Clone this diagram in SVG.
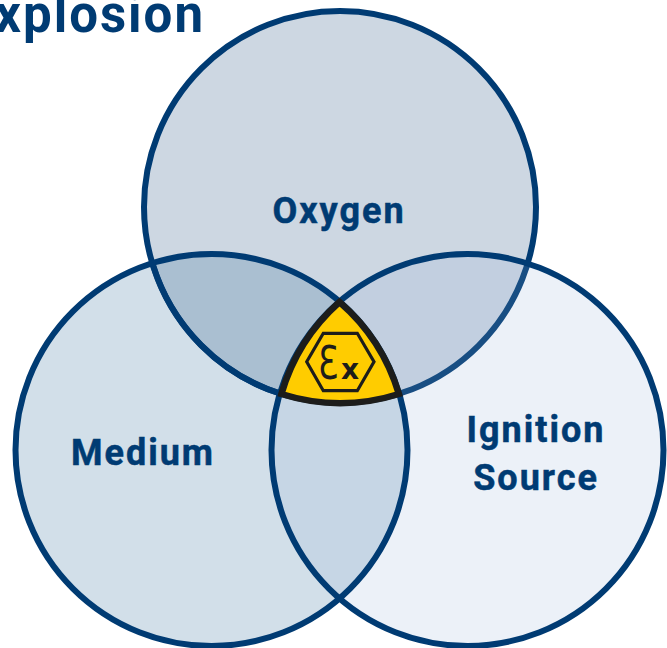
<svg xmlns="http://www.w3.org/2000/svg" width="667" height="648" viewBox="0 0 667 648">
<style>
.o{fill:none;stroke:#003b73;stroke-width:6}
.t{font-family:"Roboto","Liberation Sans",sans-serif;font-weight:700;fill:#003b73;stroke:#003b73;stroke-width:.5;text-anchor:middle;font-size:36px;letter-spacing:2px}
</style>
<rect width="667" height="648" fill="#fff"/>
<text id="title" x="205" y="32" text-anchor="end" style="font-family:Roboto,'Liberation Sans',sans-serif;font-weight:700;font-size:51px;fill:#003b73;letter-spacing:2px">Explosion</text>
<g id="node-oxygen"><circle class="o" cx="340" cy="207" r="196" style="fill:#cdd7e2"/></g>
<g id="node-medium"><circle cx="211.500" cy="450" r="196" fill="rgb(30,95,145)" fill-opacity=".2"/></g>
<g id="node-ignition"><circle cx="467.500" cy="450" r="196" fill="rgb(140,170,215)" fill-opacity=".17"/></g>
<g id="outlines">
<circle class="o" cx="211.500" cy="450" r="196"/>
<circle class="o" cx="467.500" cy="450" r="196"/>
<path class="o" d="M152.400,263A196 196 0 0 0 281.400,394"/>
</g>
<g id="labels">
<text class="t" x="339" y="223">Oxygen</text>
<text class="t" x="143" y="465">Medium</text>
<text class="t" x="536" y="442">Ignition</text>
<text class="t" x="536" y="490">Source</text>
</g>
<g id="node-ex">
<path d="M339.500,302A196 196 0 0 0 281.400,394A196 196 0 0 0 398.900,394A196 196 0 0 0 339.500,302Z" fill="#fc0" stroke="#1d1d1b" stroke-width="6.500"/>
<path d="M306.700,361.700L323.300,333.300H357.300L374,361.700L357.300,390.700H323.300Z" fill="none" stroke="#1d1d1b" stroke-width="3.200"/>
<text transform="translate(318,379) scale(.72,1)" style="font-family:'DejaVu Sans',sans-serif;font-size:46px;fill:#1d1d1b">Ɛ</text>
<text x="341" y="379" style="font-family:'DejaVu Sans',sans-serif;font-weight:700;font-size:28px;fill:#1d1d1b">x</text>
</g>
</svg>
